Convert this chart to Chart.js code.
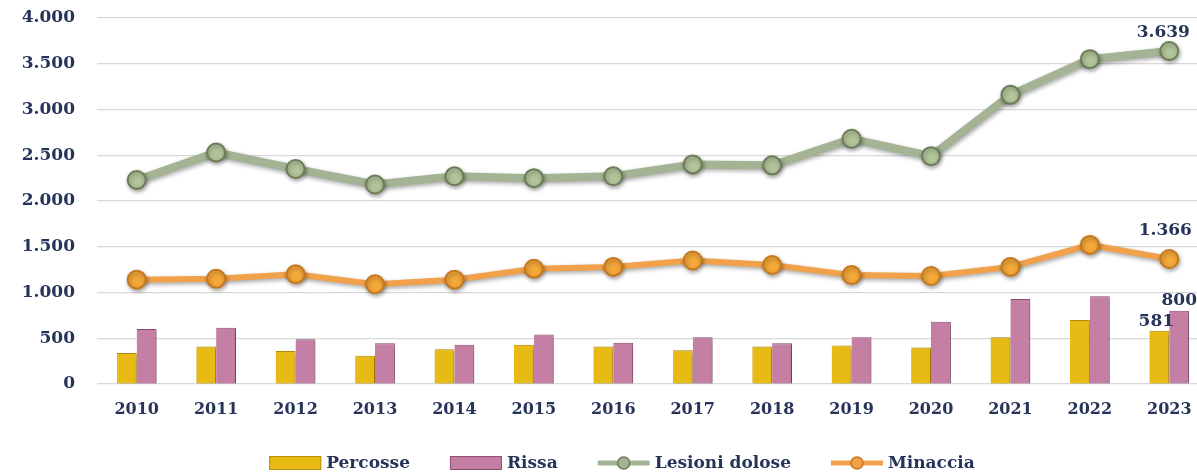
<!DOCTYPE html>
<html>
<head>
<meta charset="utf-8">
<script src="https://cdn.jsdelivr.net/npm/chart.js@4.4.1/dist/chart.umd.min.js"></script>
<style>
  html, body { margin: 0; padding: 0; background: #fff; overflow: hidden; }
  #wrap { width: 1220px; height: 474px; position: relative; }
</style>
</head>
<body>
<div id="wrap"><canvas id="chart"></canvas></div>
<script>
const anni = ['2010', '2011', '2012', '2013', '2014', '2015', '2016', '2017', '2018', '2019', '2020', '2021', '2022', '2023'];
const percosse = [340, 410, 360, 310, 380, 430, 410, 370, 410, 420, 400, 510, 700, 581];
const rissa = [600, 615, 490, 445, 430, 540, 450, 510, 445, 510, 680, 930, 960, 800];
const lesioniDolose = [2230, 2530, 2350, 2180, 2270, 2250, 2270, 2400, 2390, 2680, 2490, 3160, 3550, 3639];
const minaccia = [1140, 1150, 1200, 1090, 1140, 1260, 1280, 1350, 1300, 1190, 1180, 1280, 1520, 1366];
const yTicks = [0, 500, 1000, 1500, 2000, 2500, 3000, 3500, 4000];

const navy = '#26345a';
const serif = '"DejaVu Serif", "Liberation Serif", serif';

// formato italiano: 3.639
const fmt = v => String(v).replace(/\B(?=(\d{3})+(?!\d))/g, '.');

// ombra morbida sotto barre e linee
const shadowPlugin = {
    id: 'shadow',
    beforeDatasetDraw(chart) {
        const ctx = chart.ctx;
        ctx.save();
        ctx.shadowColor = 'rgba(0,0,0,0.35)';
        ctx.shadowBlur = 4;
        ctx.shadowOffsetX = 1;
        ctx.shadowOffsetY = 2;
    },
    afterDatasetDraw(chart) {
        chart.ctx.restore();
    }
};

// etichetta sull'ultimo valore di ogni serie
const lastLabelPlugin = {
    id: 'lastLabel',
    afterDatasetsDraw(chart) {
        const ctx = chart.ctx;
        ctx.save();
        ctx.font = 'bold 17px ' + serif;
        ctx.fillStyle = navy;
        ctx.textAlign = 'center';
        ctx.textBaseline = 'bottom';
        chart.data.datasets.forEach((ds, i) => {
            const meta = chart.getDatasetMeta(i);
            const last = meta.data.length - 1;
            const el = meta.data[last];
            const off = ds.labelOffset || 8;
            ctx.fillText(fmt(ds.data[last]), el.x + (ds.labelDx || 0), el.y - off);
        });
        ctx.restore();
    }
};

// legenda in basso disegnata a mano (rettangoli per barre, linea+cerchio per linee)
const legendPlugin = {
    id: 'customLegend',
    afterDraw(chart) {
        const ctx = chart.ctx;
        const y = 463;
        const symW = 52, gap = 5, itemGap = 40;
        ctx.save();
        ctx.font = 'bold 17px ' + serif;
        const items = chart.data.datasets.map(ds => ({
            text: ds.label,
            type: ds.type === 'line' ? 'line' : 'box',
            color: ds.legendColor,
            edge: ds.legendEdge,
            w: ctx.measureText(ds.label).width
        }));
        const total = items.reduce((a, it) => a + symW + gap + it.w, 0) + itemGap * (items.length - 1);
        let x = 622 - total / 2;
        items.forEach(it => {
            if (it.type === 'box') {
                ctx.fillStyle = it.color;
                ctx.fillRect(x, y - 7, symW, 14);
                ctx.strokeStyle = it.edge;
                ctx.lineWidth = 1;
                ctx.strokeRect(x + 0.5, y - 6.5, symW - 1, 13);
            } else {
                ctx.strokeStyle = it.color;
                ctx.lineWidth = 5;
                ctx.beginPath();
                ctx.moveTo(x, y);
                ctx.lineTo(x + symW, y);
                ctx.stroke();
                ctx.beginPath();
                ctx.arc(x + symW / 2, y, 6, 0, Math.PI * 2);
                ctx.fillStyle = it.color;
                ctx.fill();
                ctx.lineWidth = 1.5;
                ctx.strokeStyle = it.edge;
                ctx.stroke();
            }
            ctx.fillStyle = navy;
            ctx.textAlign = 'left';
            ctx.textBaseline = 'middle';
            ctx.fillText(it.text, x + symW + gap, y + 1);
            x += symW + gap + it.w + itemGap;
        });
        ctx.restore();
    }
};

new Chart(document.getElementById('chart'), {
    data: {
        labels: anni,
        datasets: [
            {
                type: 'bar',
                label: 'Percosse',
                data: percosse,
                backgroundColor: '#e8ba14',
                borderColor: '#b98f0a',
                borderWidth: { left: 0, right: 1, top: 1, bottom: 0 },
                legendColor: '#e8ba14',
                legendEdge: '#b98f0a',
                labelOffset: 1,
                labelDx: -3,
                order: 3
            },
            {
                type: 'bar',
                label: 'Rissa',
                data: rissa,
                backgroundColor: '#c57fa4',
                borderColor: '#8f4f72',
                borderWidth: { left: 0, right: 1, top: 1, bottom: 0 },
                legendColor: '#c57fa4',
                legendEdge: '#8f4f72',
                labelOffset: 2,
                order: 4
            },
            {
                type: 'line',
                label: 'Lesioni dolose',
                data: lesioniDolose,
                borderColor: '#a3b393',
                borderWidth: 8,
                pointRadius: 9,
                pointBackgroundColor: '#b2c49a',
                pointBorderColor: '#6c7c57',
                pointBorderWidth: 2,
                tension: 0,
                legendColor: '#a3b393',
                legendEdge: '#6c7c57',
                labelOffset: 10,
                labelDx: -6,
                order: 2
            },
            {
                type: 'line',
                label: 'Minaccia',
                data: minaccia,
                borderColor: '#f0a14a',
                borderWidth: 6,
                pointRadius: 9,
                pointBackgroundColor: '#f4a83a',
                pointBorderColor: '#c7781c',
                pointBorderWidth: 2,
                tension: 0,
                legendColor: '#f0a14a',
                legendEdge: '#c7781c',
                labelOffset: 20,
                labelDx: -4,
                order: 1
            }
        ]
    },
    options: {
        responsive: true,
        maintainAspectRatio: false,
        animation: false,
        layout: { padding: { top: 18, right: 0, bottom: 50, left: 0 } },
        plugins: {
            legend: { display: false },
            tooltip: { enabled: false }
        },
        datasets: {
            bar: { categoryPercentage: 0.5, barPercentage: 1.0 }
        },
        scales: {
            x: {
                grid: { display: false, drawTicks: false },
                border: { display: false },
                ticks: {
                    color: navy,
                    font: { family: serif, size: 16, weight: 'bold' },
                    padding: 16,
                    maxRotation: 0
                },
                afterFit: s => { s.height = 40; }
            },
            y: {
                min: 0,
                max: 4000,
                afterBuildTicks: s => { s.ticks = yTicks.map(v => ({ value: v })); },
                grid: { color: '#d9d9d9', lineWidth: 1.2, drawTicks: true, tickLength: 22, tickColor: 'rgba(0,0,0,0)' },
                border: { display: false },
                ticks: {
                    color: navy,
                    font: { family: serif, size: 17, weight: 'bold' },
                    padding: 0,
                    callback: v => fmt(v)
                },
                afterFit: s => { s.width = 97; }
            }
        }
    },
    plugins: [shadowPlugin, lastLabelPlugin, legendPlugin]
});
</script>
</body>
</html>
